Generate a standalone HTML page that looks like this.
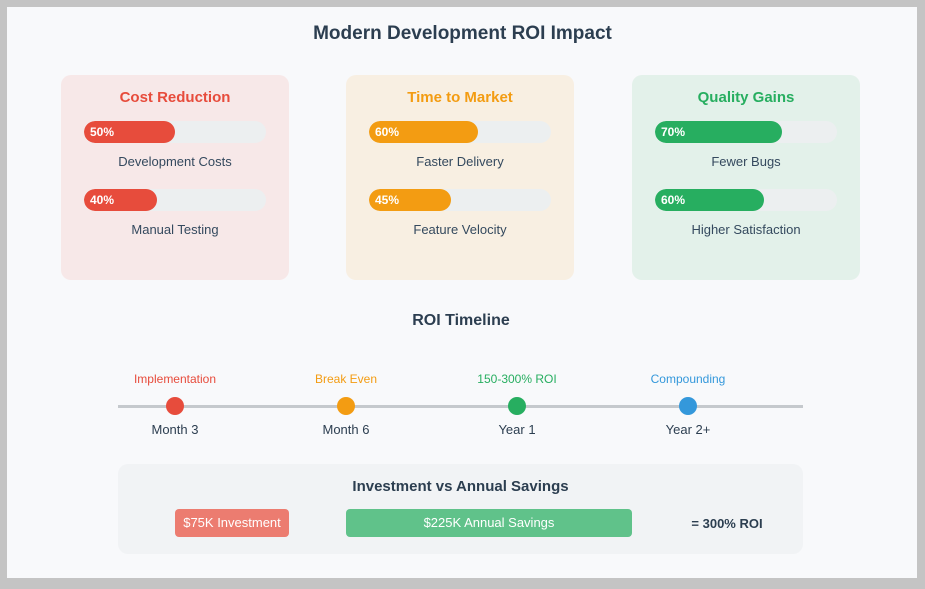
<!DOCTYPE html>
<html><head><meta charset="utf-8"><style>
body{margin:0;width:925px;height:589px;background:#c4c4c4;font-family:"Liberation Sans",Arial,sans-serif;overflow:hidden;position:relative}
.abs{position:absolute}
#panel{left:7px;top:7px;width:910px;height:571px;background:#f8f9fb}
.t{position:absolute;text-align:center;white-space:nowrap}
.card{position:absolute;top:75px;width:228px;height:205px;border-radius:10px}
.track{position:absolute;left:23px;width:182px;height:22px;border-radius:11px;background:#eceff0;overflow:hidden}
.fill{position:absolute;left:0;top:0;height:22px;border-radius:11px;color:#fff;font-weight:bold;font-size:12px;line-height:22px;padding-left:6px;box-sizing:border-box}
.lbl{position:absolute;left:0;width:228px;text-align:center;font-size:13px;color:#34495e}
</style></head><body>
<div id="panel" class="abs"></div>
<div class="t" style="left:0;width:925px;top:23px;font-size:19px;font-weight:bold;color:#2c3e50">Modern Development ROI Impact</div>
<div id="cards"></div>
<div class="t" style="left:0;width:922px;top:312px;font-size:16px;font-weight:bold;color:#2c3e50">ROI Timeline</div>
<div class="abs" style="left:118px;top:405px;width:685px;height:3px;background:#c5c9cd"></div>
<div id="tl"></div>
<div class="abs" style="left:118px;top:464px;width:685px;height:90px;background:#f1f3f5;border-radius:10px"></div>
<div class="t" style="left:118px;width:685px;top:478px;font-size:15px;font-weight:bold;color:#2c3e50">Investment vs Annual Savings</div>
<div class="t" style="left:175px;top:509px;width:114px;height:28px;line-height:28px;background:#ec7c70;border-radius:4px;color:#fff;font-size:13px">$75K Investment</div>
<div class="t" style="left:346px;top:509px;width:286px;height:28px;line-height:28px;background:#60c28a;border-radius:4px;color:#fff;font-size:13px">$225K Annual Savings</div>
<div class="t" style="left:672px;width:110px;top:516px;font-size:13px;font-weight:bold;color:#2c3e50">= 300% ROI</div>
<script>
const cardTitles=["Cost Reduction","Time to Market","Quality Gains"];
const metricLabels=[["Development Costs","Manual Testing"],["Faster Delivery","Feature Velocity"],["Fewer Bugs","Higher Satisfaction"]];
const metricValues=[[50,40],[60,45],[70,60]];
const milestoneLabels=["Implementation","Break Even","150-300% ROI","Compounding"];
const milestoneTimes=["Month 3","Month 6","Year 1","Year 2+"];
const colors=["#e74c3c","#f39c12","#27ae60","#3498db"];
const cardBgs=["#f7e8e8","#f8efe2","#e3f1ea"];
const cardX=[61,346,632];
const cards=document.getElementById('cards');
cardTitles.forEach((title,i)=>{
  const c=document.createElement('div');c.className='card';
  
  
  c.style.left=cardX[i]+'px';c.style.background=cardBgs[i];
  const h=document.createElement('div');h.className='lbl';h.style.top='14px';h.style.fontSize='15px';h.style.fontWeight='bold';h.style.color=colors[i];h.textContent=title;
  
  
  c.appendChild(h);
  metricValues[i].forEach((v,j)=>{
    const tr=document.createElement('div');tr.className='track';tr.style.top=(46+j*68)+'px';
    
    
    const f=document.createElement('div');f.className='fill';f.style.width=(182*v/100)+'px';f.style.background=colors[i];f.textContent=v+'%';
    
    
    tr.appendChild(f);c.appendChild(tr);
    const l=document.createElement('div');l.className='lbl';l.style.top=(79+j*68)+'px';l.textContent=metricLabels[i][j];
    
    
    c.appendChild(l);
  });
  cards.appendChild(c);
});
const tl=document.getElementById('tl');
milestoneLabels.forEach((m,i)=>{
  const x=175+i*171;
  const a=document.createElement('div');a.className='t';a.style.left=(x-70)+'px';a.style.width='140px';a.style.top='372px';a.style.fontSize='12px';a.style.color=colors[i];a.textContent=m;
  
  
  tl.appendChild(a);
  const d=document.createElement('div');d.className='abs';d.style.left=(x-9)+'px';d.style.top='397px';d.style.width='18px';d.style.height='18px';d.style.borderRadius='50%';d.style.background=colors[i];
  
  
  tl.appendChild(d);
  const b=document.createElement('div');b.className='t';b.style.left=(x-70)+'px';b.style.width='140px';b.style.top='422px';b.style.fontSize='13px';b.style.color='#2c3e50';b.textContent=milestoneTimes[i];
  
  
  tl.appendChild(b);
});
</script>
</body></html>
